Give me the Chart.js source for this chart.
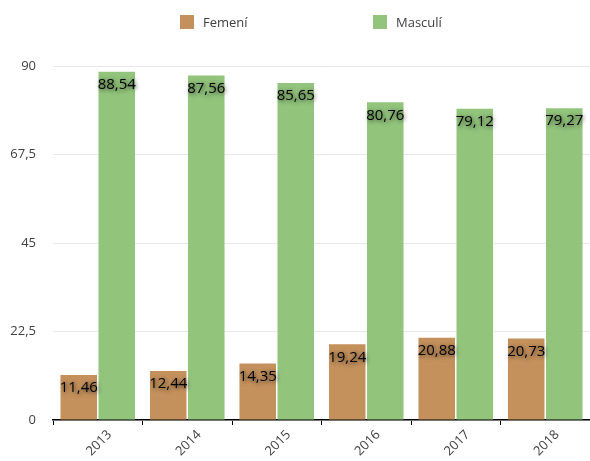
<!DOCTYPE html>
<html>
<head>
<meta charset="utf-8">
<script src="https://cdn.jsdelivr.net/npm/chart.js@4"></script>
<style>
    body { margin: 0; background: #fff; }
    #wrap { position: relative; width: 590px; height: 461px; }
    #legend { position: absolute; top: 14px; left: 0; width: 590px; font-family: "Open Sans", sans-serif; font-size: 13px; color: #404040; }
    .item { position: absolute; top: 0; height: 16px; line-height: 16px; }
    .box { display: inline-block; width: 14px; height: 14px; vertical-align: -2px; margin-right: 9px; }
</style>
</head>
<body>
<div id="wrap">
    <canvas id="genderChart" width="590" height="461"></canvas>
    <div id="legend"></div>
</div>
<script>
// Data
const years = ["2013", "2014", "2015", "2016", "2017", "2018"];
const femeni = [11.46, 12.44, 14.35, 19.24, 20.88, 20.73];
const masculi = [88.54, 87.56, 85.65, 80.76, 79.12, 79.27];
const seriesNames = ["Femení", "Masculí"];
const seriesColors = ["#C4915C", "#92C47C"];
const yTicks = [0, 22.5, 45, 67.5, 90];

const fmt = (v) => String(v).replace(".", ",");

// Value labels drawn inside the top of every bar
const barLabels = {
    id: "barLabels",
    afterDatasetsDraw(chart) {
        const ctx = chart.ctx;
        ctx.save();
        ctx.font = "15px 'Open Sans', sans-serif";
        ctx.fillStyle = "#000";
        ctx.textAlign = "center";
        ctx.textBaseline = "middle";
        ctx.shadowColor = "rgba(0, 0, 0, 0.75)";
        ctx.shadowBlur = 4;
        ctx.shadowOffsetX = 1;
        ctx.shadowOffsetY = 1;
        chart.data.datasets.forEach((ds, i) => {
            chart.getDatasetMeta(i).data.forEach((bar, j) => {
                ctx.fillText(fmt(ds.data[j]), bar.x, bar.y + 13);
            });
        });
        ctx.restore();
    },
};

const config = {
    type: "bar",
    data: {
        labels: years,
        datasets: [
            { label: seriesNames[0], data: femeni, backgroundColor: seriesColors[0] },
            { label: seriesNames[1], data: masculi, backgroundColor: seriesColors[1] },
        ],
    },
    options: {
        responsive: false,
        animation: false,
        layout: { padding: { top: 66, right: 0, bottom: 0, left: 0 } },
        plugins: {
            legend: { display: false },
            tooltip: { enabled: false },
        },
        datasets: {
            bar: { categoryPercentage: 0.85, barPercentage: 0.96 },
        },
        scales: {
            x: {
                offset: true,
                grid: {
                    offset: true,
                    drawOnChartArea: false,
                    color: "#000",
                    tickLength: 5,
                },
                border: { color: "#000", width: 1.5 },
                ticks: {
                    color: "#404040",
                    font: { family: "'Open Sans', sans-serif", size: 13 },
                    minRotation: 45,
                    maxRotation: 45,
                    labelOffset: 12,
                    padding: 2,
                },
                afterFit(scale) { scale.height = 41; },
            },
            y: {
                min: 0,
                max: 90,
                afterBuildTicks(scale) { scale.ticks = yTicks.map((v) => ({ value: v })); },
                grid: { color: "#E8E8E8", drawTicks: false },
                border: { display: false },
                ticks: {
                    color: "#404040",
                    font: { family: "'Open Sans', sans-serif", size: 13 },
                    padding: 17,
                    callback: (v) => fmt(v),
                },
                afterFit(scale) { scale.width = 53; },
            },
        },
    },
    plugins: [barLabels],
};

const ctx = document.getElementById("genderChart").getContext("2d");
const genderChart = new Chart(ctx, config);

// HTML legend
const legendLeft = [180, 373];
const legend = document.getElementById("legend");
seriesNames.forEach((name, i) => {
    const el = document.createElement("div");
    el.className = "item";
    el.style.left = legendLeft[i] + "px";
    el.innerHTML = `<span class="box" style="background:${seriesColors[i]}"></span>${name}`;
    legend.appendChild(el);
});
</script>
</body>
</html>
